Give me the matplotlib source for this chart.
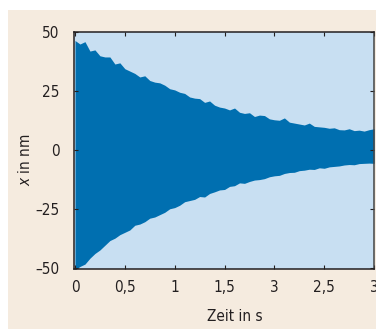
import matplotlib
matplotlib.use('Agg')
import matplotlib.pyplot as plt
from matplotlib.patches import Rectangle
import numpy as np

plt.rcParams['font.family'] = ['DejaVu Sans']
plt.rcParams['font.stretch'] = 'condensed'
plt.rcParams['mathtext.fontset'] = 'custom'
plt.rcParams['mathtext.it'] = 'DejaVu Sans:italic'
plt.rcParams['mathtext.rm'] = 'DejaVu Sans'

# envelope of the oscillation, every 0.05 s
time = np.arange(61) * 0.05
upper = [46.5, 45.0, 46.0, 42.0, 42.5, 40.0, 39.5, 39.5, 36.5, 37.0,
         34.5, 33.5, 32.5, 31.0, 31.5, 29.5, 28.8, 28.5, 27.5, 26.0,
         25.5, 24.5, 24.0, 22.5, 22.0, 21.8, 20.2, 20.8, 19.0, 18.2,
         17.8, 17.0, 17.8, 16.0, 15.5, 15.8, 14.2, 14.8, 14.6, 13.2,
         12.8, 12.6, 13.6, 11.8, 11.4, 11.0, 10.6, 11.4, 10.0, 9.8,
         9.6, 9.2, 9.4, 8.6, 8.5, 9.0, 8.2, 8.4, 8.0, 8.6, 9.0]
lower = [-51.0, -49.5, -48.5, -46.0, -44.0, -42.5, -40.5, -38.5, -37.5, -36.0,
         -35.0, -34.0, -32.0, -31.5, -30.5, -29.0, -28.5, -27.5, -26.5, -25.0,
         -24.5, -23.5, -22.0, -21.5, -21.0, -19.8, -20.0, -18.5, -17.8, -17.0,
         -16.8, -15.5, -15.2, -14.0, -14.2, -13.4, -12.8, -12.6, -12.2, -11.4,
         -11.0, -10.8, -10.0, -9.6, -9.5, -8.8, -8.6, -8.2, -8.3, -7.6,
         -7.8, -7.2, -7.0, -6.8, -6.4, -6.2, -6.3, -5.8, -5.7, -5.6, -5.7]

xticks = [0, 0.5, 1, 1.5, 2, 2.5, 3]
xticklabels = ['0', '0,5', '1', '1,5', '3', '2,5', '3']
yticks = [50, 25, 0, -25, -50]
yticklabels = ['50', '25', '0', '–25', '–50']

fig = plt.figure(figsize=(3.76, 3.29), dpi=100)
fig.patch.set_facecolor('white')
bg = Rectangle((8 / 376, 0), 1, 319 / 329, transform=fig.transFigure,
               facecolor='#f5ebdf', edgecolor='none', zorder=-10)
fig.add_artist(bg)

ax = fig.add_axes([0.196, 0.183, 0.799, 0.719])
ax.set_facecolor('#c8dff2')
ax.fill_between(time, lower, upper, color='#006fb0', linewidth=0)

ax.set_xlim(-0.013, 3)
ax.set_ylim(-50.5, 49.5)
ax.set_xticks(xticks)
ax.set_xticklabels(xticklabels)
ax.set_yticks(yticks)
ax.set_yticklabels(yticklabels)
ax.tick_params(direction='in', length=3, width=0.8, top=True, right=True,
               labelsize=11, colors='#231f20')
ax.tick_params(axis='x', pad=8)
ax.tick_params(axis='y', pad=10)
for s in ax.spines.values():
    s.set_linewidth(1.1)
    s.set_color('#231f20')
ax.spines['right'].set_color('#444444')

ax.set_xlabel('Zeit in s', fontsize=11, color='#231f20')
ax.xaxis.set_label_coords(0.535, -0.17)
ax.set_ylabel(r'$x$ in nm', fontsize=11, color='#231f20')
ax.yaxis.set_label_coords(-0.135, 0.46)

fig.savefig('out.png', dpi=100, facecolor=fig.get_facecolor())
